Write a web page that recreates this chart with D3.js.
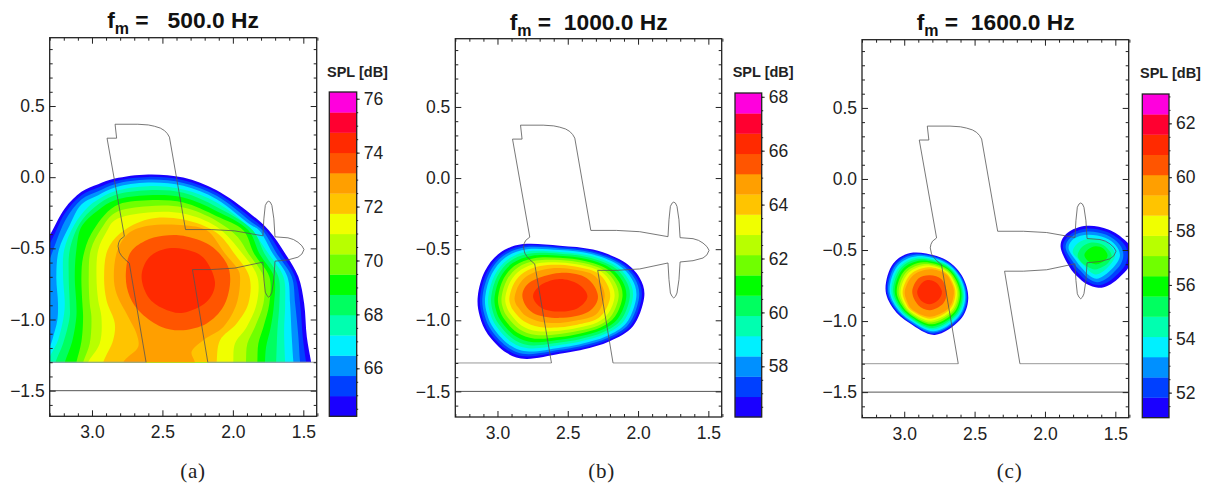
<!DOCTYPE html>
<html><head><meta charset="utf-8">
<script src="https://cdn.jsdelivr.net/npm/d3@7/dist/d3.min.js"></script>
<style>html,body{margin:0;padding:0;background:#fff}svg{display:block}</style>
</head><body><svg id="c" width="1205" height="487"></svg>
<script>
// Band colours from lowest to highest of the 16 colour-bar classes
const bandColors=["#1a00ff","#0040ff","#0090ff","#00f0ff","#00ffb0","#00ff60","#00ff00","#70ff00","#b8ff00","#f0ff00","#ffc400","#ff9f00","#ff5500","#ff2a00","#ff0030","#ff00dd"];
const xDomain=[3.3,1.405], yDomain=[-1.68,0.98];
const xMajor=[3,2.5,2,1.5];
const xMinor=[3.3,3.2,3.1,2.9,2.8,2.7,2.6,2.4,2.3,2.2,2.1,1.9,1.8,1.7,1.6,1.4];
const yMajor=[-1.5,-1,-0.5,0,0.5];
const yMinor=[-1.6,-1.4,-1.3,-1.2,-1.1,-0.9,-0.8,-0.7,-0.6,-0.4,-0.3,-0.2,-0.1,0.1,0.2,0.3,0.4,0.6,0.7,0.8,0.9];
const barDomainA=[64.22,76.25], barDomainB=[56.12,68.14], barDomainC=[51.07,63.09];
const barTicksA=[66,68,70,72,74,76], barTicksB=[58,60,62,64,66,68], barTicksC=[52,54,56,58,60,62];
const titles=["500.0 Hz","1000.0 Hz","1600.0 Hz"];
const subLabels=["(a)","(b)","(c)"];

// Aircraft planform outline (x, y), and the wall lines on either side of it
const outline=[[2.616,-1.3],[2.735,-0.604],[2.77,-0.574],[2.79,-0.552],[2.806,-0.527],[2.815,-0.485],[2.81,-0.46],[2.799,-0.438],[2.77,-0.415],[2.893,0.274],[2.825,0.274],[2.836,0.372],[2.675,0.372],[2.6,0.367],[2.557,0.358],[2.515,0.345],[2.486,0.328],[2.465,0.306],[2.45,0.281],[2.336,-0.368],[2.154,-0.368],[1.988,-0.377],[1.787,-0.412],[1.78,-0.293],[1.77,-0.199],[1.758,-0.176],[1.746,-0.169],[1.734,-0.176],[1.723,-0.199],[1.709,-0.293],[1.701,-0.419],[1.609,-0.426],[1.57,-0.438],[1.538,-0.457],[1.51,-0.482],[1.495,-0.508],[1.51,-0.54],[1.538,-0.562],[1.609,-0.581],[1.701,-0.59],[1.709,-0.714],[1.723,-0.808],[1.734,-0.832],[1.746,-0.843],[1.758,-0.832],[1.77,-0.808],[1.78,-0.714],[1.787,-0.597],[1.988,-0.639],[2.154,-0.649],[2.287,-0.649],[2.178,-1.3]];
const wallLeft=[[3.3,-1.3],[2.616,-1.3]], wallRight=[[2.178,-1.3],[1.405,-1.3]], floorLine=[[3.3,-1.5],[1.405,-1.5]];

// 500 Hz contour traces, lowest level first (open traces are closed below y = -1.3)
const contoursA=[
[[3.454,-1.403],[3.407,-0.56],[3.3,-0.408],[3.193,-0.22],[3.075,-0.103],[2.956,-0.049],[2.838,-0.01],[2.601,0.019],[2.352,-0.003],[2.115,-0.092],[1.878,-0.255],[1.745,-0.373],[1.629,-0.536],[1.535,-0.7],[1.494,-0.888],[1.475,-1.122],[1.444,-1.302],[1.428,-1.403]],
[[3.454,-1.403],[3.407,-0.607],[3.3,-0.466],[3.193,-0.255],[3.075,-0.127],[2.956,-0.073],[2.838,-0.028],[2.601,0.002],[2.352,-0.021],[2.115,-0.11],[1.878,-0.281],[1.767,-0.373],[1.658,-0.536],[1.558,-0.7],[1.523,-0.888],[1.504,-1.122],[1.48,-1.302],[1.463,-1.403]],
[[3.454,-1.403],[3.383,-0.888],[3.324,-0.654],[3.276,-0.513],[3.182,-0.291],[3.075,-0.157],[2.956,-0.099],[2.838,-0.049],[2.601,-0.017],[2.352,-0.04],[2.115,-0.131],[1.878,-0.307],[1.79,-0.373],[1.689,-0.536],[1.582,-0.7],[1.558,-0.888],[1.535,-1.122],[1.523,-1.302],[1.511,-1.403]],
[[3.371,-1.45],[3.348,-1.263],[3.3,-1.192],[3.276,-1.122],[3.246,-1.005],[3.241,-0.888],[3.253,-0.7],[3.236,-0.513],[3.158,-0.337],[3.075,-0.192],[2.956,-0.127],[2.838,-0.073],[2.601,-0.038],[2.352,-0.061],[2.115,-0.155],[1.878,-0.333],[1.814,-0.373],[1.717,-0.536],[1.613,-0.7],[1.594,-0.888],[1.582,-1.122],[1.57,-1.302],[1.558,-1.403]],
[[3.371,-1.45],[3.336,-1.333],[3.288,-1.239],[3.241,-1.145],[3.201,-0.981],[3.193,-0.888],[3.205,-0.7],[3.198,-0.513],[3.127,-0.337],[3.028,-0.209],[2.956,-0.157],[2.838,-0.099],[2.601,-0.063],[2.352,-0.087],[2.115,-0.178],[1.878,-0.361],[1.748,-0.536],[1.641,-0.7],[1.629,-0.888],[1.636,-1.075],[1.629,-1.302],[1.625,-1.403]],
[[3.3,-1.45],[3.26,-1.302],[3.205,-1.169],[3.158,-0.981],[3.158,-0.888],[3.165,-0.7],[3.158,-0.513],[3.087,-0.326],[2.98,-0.209],[2.838,-0.127],[2.601,-0.092],[2.352,-0.11],[2.115,-0.209],[1.859,-0.373],[1.776,-0.536],[1.677,-0.7],[1.67,-0.888],[1.684,-1.075],[1.693,-1.302],[1.7,-1.45]],
[[3.229,-1.45],[3.193,-1.302],[3.141,-1.157],[3.111,-0.981],[3.111,-0.888],[3.122,-0.7],[3.111,-0.513],[3.075,-0.349],[2.956,-0.232],[2.838,-0.162],[2.601,-0.127],[2.352,-0.143],[2.115,-0.239],[1.89,-0.373],[1.812,-0.536],[1.708,-0.7],[1.708,-0.888],[1.731,-1.052],[1.764,-1.192],[1.772,-1.302],[1.776,-1.45]],
[[3.146,-1.45],[3.111,-1.302],[3.075,-1.157],[3.063,-0.981],[3.068,-0.888],[3.075,-0.7],[3.063,-0.56],[3.004,-0.396],[2.838,-0.204],[2.601,-0.162],[2.352,-0.178],[2.115,-0.274],[1.926,-0.373],[1.85,-0.536],[1.741,-0.7],[1.741,-0.888],[1.783,-1.052],[1.819,-1.169],[1.826,-1.302],[1.831,-1.45]],
[[3.099,-1.45],[3.063,-1.302],[3.016,-1.169],[3.004,-0.981],[3.016,-0.888],[3.023,-0.7],[3.009,-0.513],[2.933,-0.361],[2.838,-0.251],[2.601,-0.204],[2.352,-0.213],[2.115,-0.307],[1.966,-0.42],[1.89,-0.536],[1.783,-0.7],[1.783,-0.888],[1.843,-1.052],[1.897,-1.169],[1.907,-1.302],[1.914,-1.45]],
[[3.075,-1.45],[3.028,-1.302],[2.945,-1.169],[2.933,-0.981],[2.956,-0.864],[2.968,-0.7],[2.956,-0.513],[2.897,-0.384],[2.838,-0.302],[2.601,-0.248],[2.352,-0.255],[2.115,-0.349],[1.933,-0.536],[1.826,-0.7],[1.831,-0.888],[1.902,-1.052],[1.985,-1.169],[1.997,-1.302],[2.001,-1.45]],
[[2.956,-1.45],[2.921,-1.302],[2.85,-1.145],[2.838,-1.028],[2.897,-0.864],[2.914,-0.7],[2.89,-0.513],[2.802,-0.396],[2.601,-0.295],[2.352,-0.298],[2.115,-0.391],[1.99,-0.536],[1.883,-0.7],[1.89,-0.888],[1.973,-1.028],[2.091,-1.145],[2.115,-1.302],[2.12,-1.45]],
[[2.802,-1.45],[2.779,-1.302],[2.672,-1.192],[2.684,-1.099],[2.743,-0.981],[2.826,-0.818],[2.845,-0.7],[2.819,-0.513],[2.743,-0.396],[2.601,-0.342],[2.352,-0.337],[2.186,-0.373],[2.056,-0.536],[1.961,-0.654],[1.949,-0.7],[1.973,-0.888],[2.068,-1.052],[2.21,-1.145],[2.293,-1.227],[2.269,-1.302],[2.257,-1.45]],
[[2.76,-0.7],[2.731,-0.536],[2.625,-0.448],[2.494,-0.412],[2.352,-0.412],[2.163,-0.478],[2.044,-0.607],[2.02,-0.747],[2.068,-0.911],[2.186,-1.028],[2.352,-1.075],[2.506,-1.052],[2.648,-0.958],[2.731,-0.841]],
[[2.648,-0.7],[2.601,-0.572],[2.494,-0.508],[2.352,-0.504],[2.21,-0.565],[2.127,-0.736],[2.186,-0.876],[2.352,-0.953],[2.494,-0.923],[2.601,-0.841]]
];

// 1000 Hz contour traces, lowest level first
const contoursB=[
[[3.14,-0.831],[3.09,-0.656],[2.984,-0.527],[2.818,-0.464],[2.557,-0.475],[2.32,-0.503],[2.107,-0.585],[1.988,-0.702],[1.957,-0.843],[2.036,-1.042],[2.202,-1.147],[2.391,-1.206],[2.557,-1.236],[2.794,-1.272],[2.936,-1.229],[3.067,-1.101],[3.126,-0.972]],
[[3.123,-0.831],[3.074,-0.662],[2.971,-0.537],[2.809,-0.476],[2.557,-0.485],[2.327,-0.512],[2.121,-0.591],[2.006,-0.705],[1.975,-0.842],[2.051,-1.034],[2.21,-1.136],[2.394,-1.193],[2.557,-1.222],[2.787,-1.255],[2.927,-1.212],[3.053,-1.089],[3.11,-0.966]],
[[3.106,-0.831],[3.058,-0.668],[2.958,-0.547],[2.8,-0.487],[2.557,-0.495],[2.334,-0.522],[2.135,-0.597],[2.023,-0.708],[1.993,-0.841],[2.066,-1.026],[2.217,-1.124],[2.397,-1.179],[2.557,-1.208],[2.78,-1.238],[2.918,-1.196],[3.039,-1.077],[3.093,-0.96]],
[[3.087,-0.831],[3.041,-0.675],[2.944,-0.558],[2.79,-0.5],[2.557,-0.506],[2.341,-0.532],[2.15,-0.604],[2.043,-0.711],[2.013,-0.841],[2.082,-1.017],[2.226,-1.112],[2.401,-1.165],[2.557,-1.193],[2.773,-1.22],[2.908,-1.178],[3.023,-1.063],[3.075,-0.953]],
[[3.065,-0.831],[3.02,-0.683],[2.926,-0.572],[2.778,-0.515],[2.557,-0.52],[2.35,-0.545],[2.168,-0.612],[2.066,-0.715],[2.037,-0.84],[2.102,-1.007],[2.236,-1.097],[2.405,-1.148],[2.557,-1.174],[2.763,-1.198],[2.896,-1.156],[3.005,-1.047],[3.054,-0.945]],
[[3.044,-0.831],[3.001,-0.69],[2.91,-0.584],[2.766,-0.53],[2.557,-0.532],[2.359,-0.556],[2.185,-0.619],[2.088,-0.719],[2.059,-0.839],[2.121,-0.997],[2.245,-1.083],[2.409,-1.132],[2.557,-1.157],[2.755,-1.177],[2.884,-1.135],[2.987,-1.032],[3.033,-0.938]],
[[3.02,-0.831],[2.979,-0.698],[2.892,-0.598],[2.753,-0.546],[2.557,-0.546],[2.369,-0.569],[2.204,-0.628],[2.112,-0.723],[2.084,-0.838],[2.142,-0.986],[2.256,-1.067],[2.413,-1.113],[2.557,-1.137],[2.745,-1.154],[2.871,-1.112],[2.968,-1.015],[3.01,-0.929]],
[[2.995,-0.831],[2.956,-0.707],[2.873,-0.613],[2.74,-0.563],[2.557,-0.561],[2.379,-0.583],[2.224,-0.637],[2.138,-0.728],[2.111,-0.836],[2.164,-0.974],[2.267,-1.051],[2.417,-1.094],[2.557,-1.117],[2.735,-1.129],[2.858,-1.088],[2.947,-0.998],[2.986,-0.92]],
[[2.97,-0.831],[2.933,-0.716],[2.854,-0.628],[2.726,-0.58],[2.557,-0.576],[2.389,-0.597],[2.244,-0.646],[2.164,-0.732],[2.138,-0.835],[2.186,-0.962],[2.278,-1.034],[2.422,-1.074],[2.557,-1.096],[2.725,-1.104],[2.844,-1.063],[2.926,-0.98],[2.962,-0.911]],
[[2.943,-0.831],[2.907,-0.726],[2.833,-0.645],[2.711,-0.599],[2.557,-0.593],[2.4,-0.613],[2.267,-0.656],[2.193,-0.737],[2.167,-0.834],[2.21,-0.949],[2.291,-1.016],[2.427,-1.053],[2.557,-1.073],[2.714,-1.077],[2.83,-1.036],[2.904,-0.96],[2.936,-0.902]],
[[2.914,-0.831],[2.88,-0.736],[2.81,-0.662],[2.696,-0.619],[2.557,-0.61],[2.412,-0.629],[2.29,-0.666],[2.223,-0.742],[2.198,-0.833],[2.236,-0.935],[2.303,-0.997],[2.432,-1.031],[2.557,-1.049],[2.702,-1.048],[2.812,-1.007],[2.88,-0.94],[2.908,-0.891]],
[[2.877,-0.831],[2.846,-0.749],[2.782,-0.684],[2.676,-0.644],[2.557,-0.632],[2.427,-0.649],[2.32,-0.679],[2.261,-0.749],[2.237,-0.831],[2.268,-0.918],[2.32,-0.972],[2.439,-1.002],[2.557,-1.019],[2.687,-1.012],[2.794,-0.972],[2.849,-0.913],[2.872,-0.878]],
[[2.823,-0.831],[2.759,-0.726],[2.557,-0.667],[2.367,-0.702],[2.285,-0.831],[2.356,-0.941],[2.557,-0.983],[2.747,-0.948]],
[[2.747,-0.831],[2.687,-0.749],[2.557,-0.709],[2.427,-0.745],[2.36,-0.831],[2.427,-0.913],[2.557,-0.939],[2.687,-0.913]]
];

// 1600 Hz contour traces, lowest level first: lobe near the wing, then lobe near the nose
const contoursC1=[
[[3.133,-0.77],[3.078,-0.595],[2.936,-0.518],[2.723,-0.56],[2.592,-0.677],[2.545,-0.841],[2.604,-0.993],[2.782,-1.098],[2.96,-1.016],[3.078,-0.911]],
[[3.125,-0.771],[3.069,-0.6],[2.929,-0.525],[2.722,-0.566],[2.597,-0.68],[2.551,-0.839],[2.609,-0.988],[2.784,-1.09],[2.959,-1.01],[3.072,-0.908]],
[[3.115,-0.772],[3.06,-0.606],[2.921,-0.533],[2.721,-0.574],[2.602,-0.683],[2.558,-0.836],[2.615,-0.982],[2.787,-1.081],[2.957,-1.004],[3.065,-0.905]],
[[3.104,-0.773],[3.048,-0.612],[2.911,-0.543],[2.72,-0.582],[2.608,-0.687],[2.566,-0.834],[2.621,-0.976],[2.789,-1.071],[2.955,-0.996],[3.057,-0.901]],
[[3.092,-0.774],[3.035,-0.62],[2.9,-0.553],[2.719,-0.592],[2.615,-0.691],[2.576,-0.83],[2.629,-0.968],[2.793,-1.059],[2.953,-0.988],[3.048,-0.897]],
[[3.079,-0.775],[3.023,-0.627],[2.89,-0.564],[2.718,-0.601],[2.622,-0.695],[2.585,-0.827],[2.636,-0.961],[2.796,-1.048],[2.951,-0.98],[3.039,-0.893]],
[[3.067,-0.776],[3.01,-0.634],[2.879,-0.574],[2.717,-0.61],[2.628,-0.7],[2.594,-0.824],[2.644,-0.954],[2.799,-1.036],[2.948,-0.971],[3.03,-0.888]],
[[3.053,-0.777],[2.996,-0.643],[2.867,-0.586],[2.716,-0.621],[2.636,-0.704],[2.604,-0.821],[2.652,-0.945],[2.802,-1.023],[2.946,-0.962],[3.021,-0.884]],
[[3.039,-0.778],[2.981,-0.651],[2.855,-0.598],[2.715,-0.631],[2.644,-0.709],[2.614,-0.817],[2.66,-0.937],[2.806,-1.01],[2.944,-0.953],[3.011,-0.879]],
[[3.025,-0.779],[2.967,-0.659],[2.843,-0.609],[2.714,-0.642],[2.651,-0.714],[2.625,-0.814],[2.669,-0.929],[2.809,-0.997],[2.941,-0.943],[3.001,-0.874]],
[[3.01,-0.781],[2.952,-0.668],[2.83,-0.622],[2.712,-0.653],[2.66,-0.719],[2.636,-0.81],[2.678,-0.92],[2.813,-0.983],[2.939,-0.933],[2.99,-0.869]],
[[2.995,-0.782],[2.936,-0.677],[2.817,-0.635],[2.711,-0.665],[2.668,-0.724],[2.647,-0.806],[2.687,-0.911],[2.817,-0.969],[2.936,-0.923],[2.979,-0.864]],
[[2.943,-0.794],[2.9,-0.7],[2.817,-0.677],[2.735,-0.705],[2.699,-0.794],[2.723,-0.876],[2.817,-0.923],[2.9,-0.888]],
[[2.908,-0.794],[2.87,-0.728],[2.817,-0.712],[2.765,-0.735],[2.732,-0.794],[2.758,-0.852],[2.817,-0.881],[2.877,-0.859]]
];
const contoursC2=[
[[1.889,-0.477],[1.839,-0.379],[1.704,-0.33],[1.55,-0.356],[1.427,-0.435],[1.372,-0.524],[1.403,-0.618],[1.479,-0.7],[1.55,-0.749],[1.621,-0.765],[1.704,-0.74],[1.768,-0.688],[1.827,-0.618]],
[[1.872,-0.48],[1.822,-0.393],[1.699,-0.349],[1.557,-0.374],[1.446,-0.449],[1.412,-0.524],[1.431,-0.609],[1.498,-0.683],[1.559,-0.728],[1.626,-0.747],[1.699,-0.721],[1.754,-0.672],[1.81,-0.606]],
[[1.853,-0.484],[1.808,-0.405],[1.697,-0.37],[1.564,-0.393],[1.472,-0.459],[1.443,-0.529],[1.462,-0.601],[1.519,-0.665],[1.573,-0.707],[1.63,-0.726],[1.692,-0.7],[1.739,-0.655],[1.794,-0.594]],
[[1.832,-0.489],[1.792,-0.419],[1.692,-0.393],[1.573,-0.414],[1.498,-0.466],[1.467,-0.531],[1.488,-0.59],[1.538,-0.646],[1.585,-0.683],[1.633,-0.702],[1.685,-0.679],[1.728,-0.637],[1.775,-0.58]],
[[1.803,-0.512],[1.763,-0.449],[1.68,-0.419],[1.585,-0.435],[1.526,-0.482],[1.502,-0.536],[1.521,-0.583],[1.562,-0.63],[1.602,-0.66],[1.64,-0.672],[1.68,-0.653],[1.72,-0.613],[1.763,-0.566]],
[[1.768,-0.536],[1.735,-0.477],[1.668,-0.447],[1.597,-0.459],[1.55,-0.496],[1.526,-0.541],[1.55,-0.59],[1.59,-0.618],[1.645,-0.637],[1.697,-0.618],[1.744,-0.583]],
[[1.72,-0.536],[1.692,-0.494],[1.64,-0.473],[1.585,-0.489],[1.555,-0.536],[1.578,-0.576],[1.633,-0.601],[1.687,-0.583]]
];

// Layout (pixels)
const frames=[
 {l:49.7,r:316.7,t:37.7,b:416.3,bl:329.3,br:356.7,bt:92,tx:183,ty:28,lx:193,cbx:327,cby:76.7},
 {l:455.3,r:721.7,t:38.7,b:417,bl:735,br:761.7,bt:93,tx:588.7,ty:30,lx:601.7,cbx:732.7,cby:76.7},
 {l:862,r:1128.7,t:39.7,b:417.7,bl:1142.3,br:1169,bt:94,tx:995.7,ty:30,lx:1009.7,cbx:1140,cby:77.7}
];
const panelContours=[[{c:contoursA,open:12}],[{c:contoursB,open:0}],[{c:contoursC1,open:0},{c:contoursC2,open:0}]];
const barDomains=[barDomainA,barDomainB,barDomainC], barTicks=[barTicksA,barTicksB,barTicksC];
const spaces=["\u00a0=\u00a0\u00a0\u00a0","\u00a0=\u00a0\u00a0","\u00a0=\u00a0\u00a0"];

const svg=d3.select("#c");
const sans="'Liberation Sans',Arial,sans-serif";
const ink="#222";

frames.forEach((f,i)=>{
  const x=d3.scaleLinear().domain(xDomain).range([f.l,f.r]);
  const y=d3.scaleLinear().domain(yDomain).range([f.b,f.t]);
  const id="clip"+i;
  const clipBottom=i===0?y(-1.3):f.b;
  svg.append("clipPath").attr("id",id).append("rect")
    .attr("x",f.l).attr("y",f.t).attr("width",f.r-f.l).attr("height",clipBottom-f.t);
  const g=svg.append("g").attr("clip-path",`url(#${id})`);
  const openLine=d3.line().x(d=>x(d[0])).y(d=>y(d[1])).curve(d3.curveCatmullRom.alpha(0.5));
  const closedLine=d3.line().x(d=>x(d[0])).y(d=>y(d[1])).curve(d3.curveCatmullRomClosed.alpha(0));
  panelContours[i].forEach(set=>{
    set.c.forEach((pts,k)=>{
      g.append("path").attr("d",(k<set.open?openLine:closedLine)(pts)).attr("fill",bandColors[k]);
    });
  });
  // reference lines and outline
  const clip2="clipf"+i;
  svg.append("clipPath").attr("id",clip2).append("rect")
    .attr("x",f.l).attr("y",f.t).attr("width",f.r-f.l).attr("height",f.b-f.t);
  const fg=svg.append("g").attr("clip-path",`url(#${clip2})`);
  const lin=d3.line().x(d=>x(d[0])).y(d=>y(d[1]));
  [wallLeft,wallRight].forEach(w=>fg.append("path").attr("d",lin(w)).attr("fill","none").attr("stroke","#999").attr("stroke-width",1));
  fg.append("path").attr("d",lin(outline)).attr("fill","none").attr("stroke","#555").attr("stroke-width",0.8);
  fg.append("path").attr("d",lin(floorLine)).attr("stroke","#555").attr("stroke-width",1).attr("fill","none");

  // axes
  const style=a=>{a.select(".domain").remove();a.selectAll("line").attr("stroke",ink).attr("stroke-width",1);
    a.selectAll("text").attr("fill","#222").style("font-family",sans).style("font-size","17.5px");};
  const fmt=d3.format(".1f");
  const addAxis=(gen,tx,ty,vals,size,pad,labels)=>{
    const a=svg.append("g").attr("transform",`translate(${tx},${ty})`)
      .call(gen.tickValues(vals).tickSizeInner(size).tickSizeOuter(0).tickPadding(pad).tickFormat(labels?fmt:""));
    style(a);return a;
  };
  addAxis(d3.axisBottom(x),0,f.b,xMajor,-6,9.5,true);
  addAxis(d3.axisBottom(x),0,f.b,xMinor,-3,3,false);
  addAxis(d3.axisTop(x),0,f.t,xMajor,-6,3,false);
  addAxis(d3.axisTop(x),0,f.t,xMinor,-3,3,false);
  addAxis(d3.axisLeft(y),f.l,0,yMajor,-6,5,true);
  addAxis(d3.axisLeft(y),f.l,0,yMinor,-3,3,false);
  addAxis(d3.axisRight(y),f.r,0,yMajor,-6,3,false);
  addAxis(d3.axisRight(y),f.r,0,yMinor,-3,3,false);
  svg.append("rect").attr("x",f.l).attr("y",f.t).attr("width",f.r-f.l).attr("height",f.b-f.t)
    .attr("fill","none").attr("stroke",ink).attr("stroke-width",1.3);

  // colour bar
  const bar=d3.scaleLinear().domain(barDomains[i]).range([f.b,f.bt]);
  const step=(barDomains[i][1]-barDomains[i][0])/bandColors.length;
  svg.append("g").selectAll("rect").data(bandColors).join("rect")
    .attr("x",f.bl).attr("width",f.br-f.bl)
    .attr("y",(d,k)=>bar(barDomains[i][0]+(k+1)*step))
    .attr("height",(d,k)=>bar(barDomains[i][0]+k*step)-bar(barDomains[i][0]+(k+1)*step)+0.3)
    .attr("fill",d=>d);
  const ba=svg.append("g").attr("transform",`translate(${f.br},0)`)
    .call(d3.axisRight(bar).tickValues(barTicks[i]).tickSizeInner(3).tickSizeOuter(0).tickPadding(4).tickFormat(d3.format("d")));
  style(ba);
  const minorBar=d3.range(Math.ceil(barDomains[i][0]*2),Math.floor(barDomains[i][1]*2)+1).map(v=>v/2);
  svg.append("g").attr("transform",`translate(${f.br},0)`)
    .call(d3.axisRight(bar).tickValues(minorBar).tickSizeInner(1.5).tickSizeOuter(0).tickFormat(""))
    .call(style);
  svg.append("rect").attr("x",f.bl).attr("y",f.bt).attr("width",f.br-f.bl).attr("height",f.b-f.bt)
    .attr("fill","none").attr("stroke",ink).attr("stroke-width",1.3);
  svg.append("text").attr("x",f.cbx).attr("y",f.cby).text("SPL [dB]")
    .style("font-family",sans).style("font-size","14.5px").style("font-weight","bold").attr("fill","#222");

  // title
  const t=svg.append("text").attr("x",f.tx).attr("y",f.ty).attr("text-anchor","middle")
    .style("font-family",sans).style("font-size","22.8px").style("font-weight","bold").attr("fill","#111");
  t.append("tspan").text("f");
  t.append("tspan").attr("dy",6).style("font-size","16px").text("m");
  t.append("tspan").attr("dy",-6).text(spaces[i]+titles[i]);
  svg.append("text").attr("x",f.lx).attr("y",478).attr("text-anchor","middle")
    .style("font-family","'Liberation Serif',serif").style("font-size","21px").style("letter-spacing","0.8px").attr("fill","#222")
    .text(subLabels[i]);
});
</script></body></html>
